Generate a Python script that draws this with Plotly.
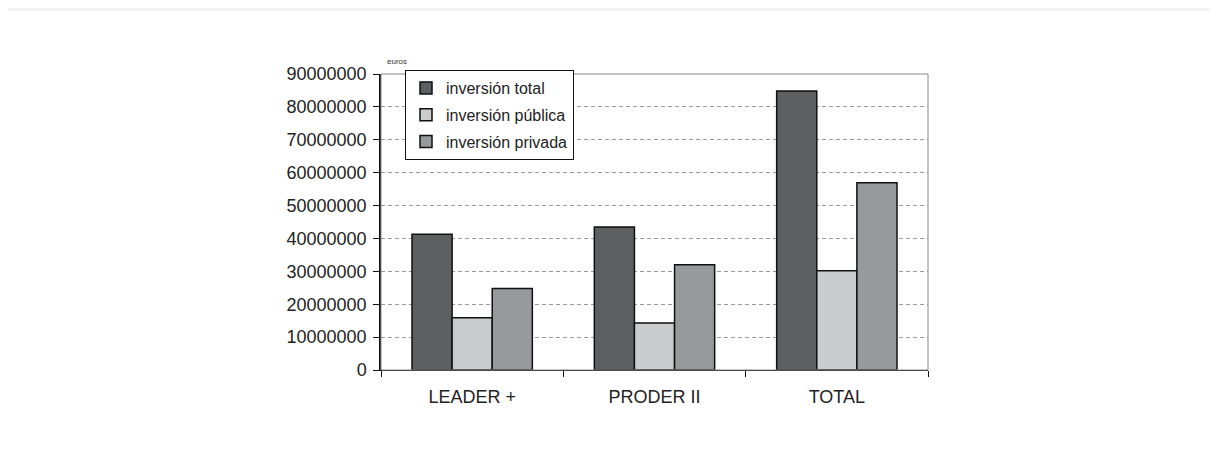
import plotly.graph_objects as go

categories = ["LEADER +", "PRODER II", "TOTAL"]
series_names = ["inversión total", "inversión pública", "inversión privada"]
inversion_total = [41300000, 43500000, 84800000]
inversion_publica = [15900000, 14300000, 30200000]
inversion_privada = [24800000, 32000000, 56900000]
y_ticks = [0, 10000000, 20000000, 30000000, 40000000, 50000000,
           60000000, 70000000, 80000000, 90000000]
colors = ["#5e5f61", "#c9cbcd", "#97999c"]

FONT = "Liberation Sans, Arial, sans-serif"

# page body has an 8px margin, so shift margins accordingly
L, T, PW, PH = 373, 66, 547, 296

fig = go.Figure()
for name, vals, col in zip(series_names,
                           [inversion_total, inversion_publica, inversion_privada],
                           colors):
    fig.add_trace(go.Bar(
        x=categories, y=vals, name=name,
        marker=dict(color=col, line=dict(color="#111111", width=1.5)),
        legendgroup=name,
    ))

fig.update_layout(
    width=1217, height=455,
    margin=dict(l=L, r=1217 - L - PW, t=T, b=455 - T - PH),
    paper_bgcolor="white", plot_bgcolor="white",
    barmode="group", bargap=0.34, bargroupgap=0,
    font=dict(family=FONT, color="#222222"),
    showlegend=True,
    legend=dict(
        x=(405 - 381) / PW, y=1 + 4 / PH, xanchor="left", yanchor="top",
        bgcolor="white", bordercolor="#111111", borderwidth=1,
        font=dict(size=16, family=FONT, color="#222222"),
        traceorder="grouped", tracegroupgap=3,
        itemwidth=30,
    ),
    xaxis=dict(
        showline=True, linecolor="#111111", linewidth=1,
        mirror=False,
        ticks="outside", ticklen=6, tickcolor="#111111",
        tickson="boundaries",
        ticklabelstandoff=10,
        tickfont=dict(size=18, family=FONT, color="#222222"),
        showgrid=False,
    ),
    yaxis=dict(
        range=[0, 90000000],
        tickvals=y_ticks,
        ticktext=[str(v) for v in y_ticks],
        showline=True, linecolor="#111111", linewidth=1.5,
        ticks="outside", ticklen=6, tickcolor="#111111",
        ticklabelstandoff=3,
        tickfont=dict(size=18, family=FONT, color="#222222"),
        showgrid=True, gridcolor="#9a9a9a", griddash="4px,3px", gridwidth=1,
        zeroline=False,
    ),
    shapes=[
        dict(type="rect", xref="paper", yref="paper", x0=0, x1=1, y0=0, y1=1,
             line=dict(color="#888888", width=1), fillcolor="rgba(0,0,0,0)", layer="above"),
        dict(type="rect", xref="paper", yref="paper", x0=-L / PW, x1=(1217 - L) / PW,
             y0=1 + (T - 3) / PH, y1=1 + T / PH,
             line=dict(width=0), fillcolor="#f2f2f2", layer="below"),
    ],
    annotations=[
        dict(text="euros", xref="paper", yref="paper", x=(385 - 381) / PW, y=(370 - 61) / PH,
             xanchor="left", yanchor="middle", showarrow=False,
             font=dict(size=8, family=FONT, color="#333333")),
    ],
)

fig.write_html("out.html")
